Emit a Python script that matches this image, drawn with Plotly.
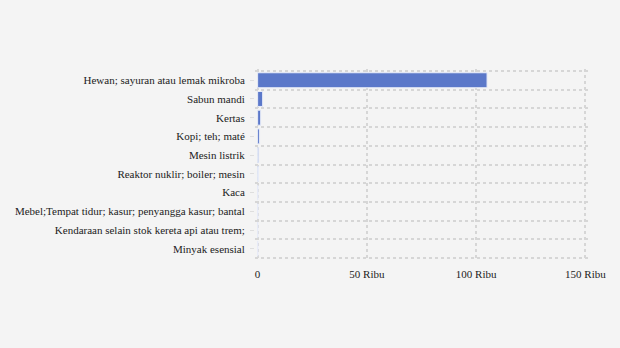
import plotly.graph_objects as go

categories = [
    "Hewan; sayuran atau lemak mikroba",
    "Sabun mandi",
    "Kertas",
    "Kopi; teh; maté",
    "Mesin listrik",
    "Reaktor nuklir; boiler; mesin",
    "Kaca",
    "Mebel;Tempat tidur; kasur; penyangga kasur; bantal",
    "Kendaraan selain stok kereta api atau trem;",
    "Minyak esensial",
]
values = [105000, 2300, 1400, 900, 500, 400, 150, 120, 100, 80]
x_tickvals = [0, 50000, 100000, 150000]
x_ticktext = ["0", "50 Ribu", "100 Ribu", "150 Ribu"]

ypos = list(range(len(categories)))

fig = go.Figure(go.Bar(
    x=values, y=ypos, orientation="h",
    marker=dict(color="#5b78c9", line=dict(color="#e8ecf8", width=1)),
    width=0.8,
))

grid = "#d6d6d6"
fig.update_layout(
    width=620, height=348,
    margin=dict(l=255, r=32, t=69, b=88),
    paper_bgcolor="#f4f4f4", plot_bgcolor="#f4f4f4",
    font=dict(family="Liberation Serif", size=11, color="#222"),
    showlegend=False,
    xaxis=dict(
        range=[-1200, 151200], tickvals=x_tickvals, ticktext=x_ticktext,
        showgrid=True, gridcolor=grid, gridwidth=2, griddash="3px,3px",
        zeroline=False, showline=False, ticks="", ticklabelstandoff=6,
    ),
    yaxis=dict(
        range=[len(categories) - 0.4, -0.6],
        tickvals=ypos, ticktext=categories,
        showgrid=False, zeroline=False,
        ticks="outside", ticklen=4, tickcolor="#dedede", tickwidth=1,
        showline=False,
        minor=dict(tickvals=[i - 0.5 for i in range(len(categories) + 1)],
                   showgrid=True, gridcolor=grid, gridwidth=2, griddash="3px,3px",
                   ticks=""),
        ticklabelstandoff=3,
    ),
)

fig.write_html("out.html")
